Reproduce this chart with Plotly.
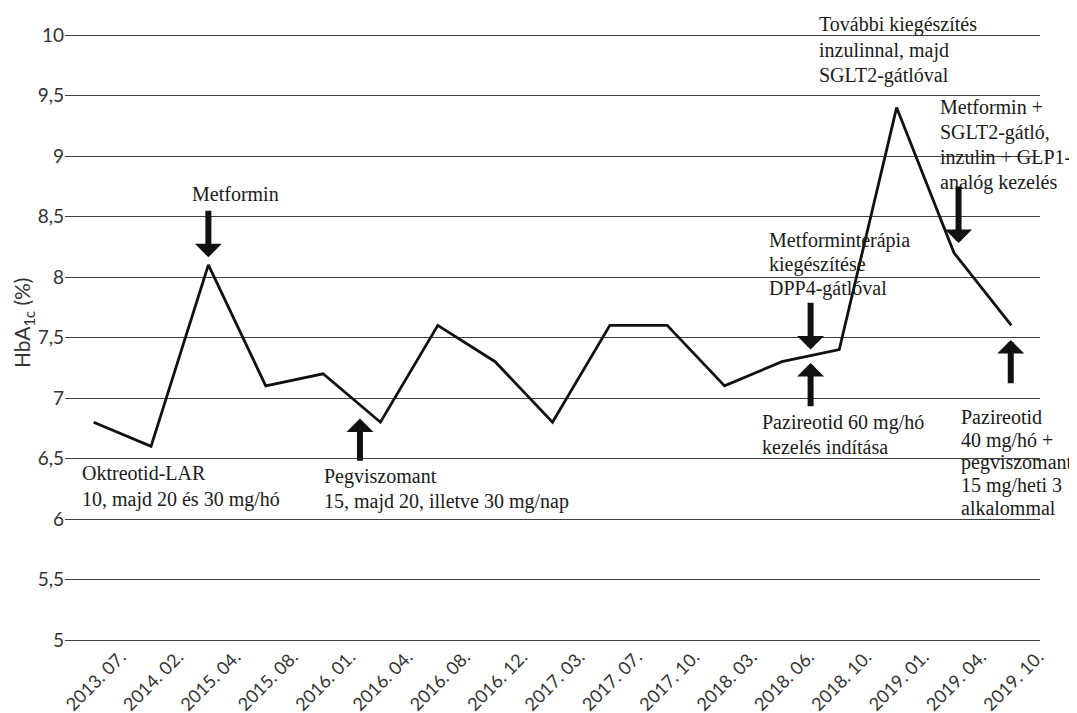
import plotly.graph_objects as go

# ---- data ----
dates = ["2013. 07.", "2014. 02.", "2015. 04.", "2015. 08.", "2016. 01.", "2016. 04.",
         "2016. 08.", "2016. 12.", "2017. 03.", "2017. 07.", "2017. 10.", "2018. 03.",
         "2018. 06.", "2018. 10.", "2019. 01.", "2019. 04.", "2019. 10."]
hba1c = [6.8, 6.6, 8.1, 7.1, 7.2, 6.8, 7.6, 7.3, 6.8, 7.6, 7.6, 7.1, 7.3, 7.4, 9.4, 8.2, 7.6]

y_ticks = [5, 5.5, 6, 6.5, 7, 7.5, 8, 8.5, 9, 9.5, 10]

# text blocks: lines, left x (category index units), first-line centre (HbA1c units), line step
text_blocks = [
    (["Oktreotid-LAR", "10, majd 20 és 30 mg/hó"], -0.23, 6.38, 0.219),
    (["Pegviszomant", "15, majd 20, illetve 30 mg/nap"], 3.98, 6.35, 0.207),
    (["Metforminterápia", "kiegészítése", "DPP4-gátlóval"], 11.745, 8.30, 0.197),
    (["Pazireotid 60 mg/hó", "kezelés indítása"], 11.62, 6.80, 0.207),
    (["Pazireotid", "40 mg/hó +", "pegviszomant", "15 mg/heti 3", "alkalommal"], 15.09, 6.84, 0.188),
    (["Metformin +", "SGLT2-gátló,", "inzulin + GLP1-", "analóg kezelés"], 14.73, 9.405, 0.207),
    (["További kiegészítés", "inzulinnal, majd", "SGLT2-gátlóval"], 12.62, 10.083, 0.207),
]
centered_labels = [("Metformin", 2.48, 8.69)]

# arrows: x (category index), tip value, tail value
arrows = [
    (2.0, 8.163, 8.56),
    (4.643, 6.83, 6.47),
    (12.50, 7.40, 7.80),
    (12.50, 7.29, 6.92),
    (15.08, 8.28, 8.76),
    (15.99, 7.48, 7.11),
]

serif = dict(family="Liberation Serif", size=20, color="#1a1a1a")
sans = dict(family="Lato", size=19, color="#333333")

# small padding so that the 5 and 10 gridlines are drawn at the plot edges
pad = 2 / 121
y_range = [y_ticks[0] - pad, y_ticks[-1] + pad]


def to_paper(v):
    return (v - y_range[0]) / (y_range[1] - y_range[0])


fig = go.Figure()
fig.add_trace(go.Scatter(x=dates, y=hba1c, mode="lines",
                         line=dict(color="#111111", width=2.8), hoverinfo="skip"))

annotations = []
for lines, xl, y0, step in text_blocks:
    for k, t in enumerate(lines):
        annotations.append(dict(x=xl, y=to_paper(y0 - k * step), xref="x", yref="paper",
                                text=t, showarrow=False, xanchor="left", yanchor="middle",
                                font=serif))
for t, xc, yc in centered_labels:
    annotations.append(dict(x=xc, y=yc, xref="x", yref="y", text=t, showarrow=False,
                            xanchor="center", yanchor="middle", font=serif))
for xa, tip, tail in arrows:
    annotations.append(dict(x=xa, y=tip, ax=xa, ay=tail, xref="x", yref="y",
                            axref="x", ayref="y", text="", showarrow=True,
                            arrowhead=1, arrowsize=0.75, arrowwidth=6,
                            arrowcolor="#111111", standoff=0))
annotations.append(dict(x=-0.043, y=7.62, xref="paper", yref="y",
                        text="HbA<sub>1c</sub> (%)", textangle=-90, showarrow=False,
                        xanchor="center", yanchor="middle",
                        font=dict(family="Lato", size=21, color="#333333")))

# the page body adds an 8px offset, so the figure is 8px smaller and margins shifted
fig.update_layout(
    width=1069, height=705,
    margin=dict(l=57, r=37, t=25, b=71),
    paper_bgcolor="white", plot_bgcolor="white",
    showlegend=False,
    separators=", ",
    annotations=annotations,
    xaxis=dict(type="category", range=[-0.5, len(dates) - 0.5], showgrid=False,
               showline=False, zeroline=False, tickangle=-45, automargin=False,
               ticks="", ticklabelshift=27, ticklabelstandoff=0,
               tickfont=dict(family="Lato", size=18, color="#333333")),
    yaxis=dict(range=y_range, tickvals=y_ticks, showgrid=True, gridcolor="#404040",
               gridwidth=1, zeroline=False, showline=False, automargin=False,
               tickfont=sans),
)

fig.write_html("out.html")
